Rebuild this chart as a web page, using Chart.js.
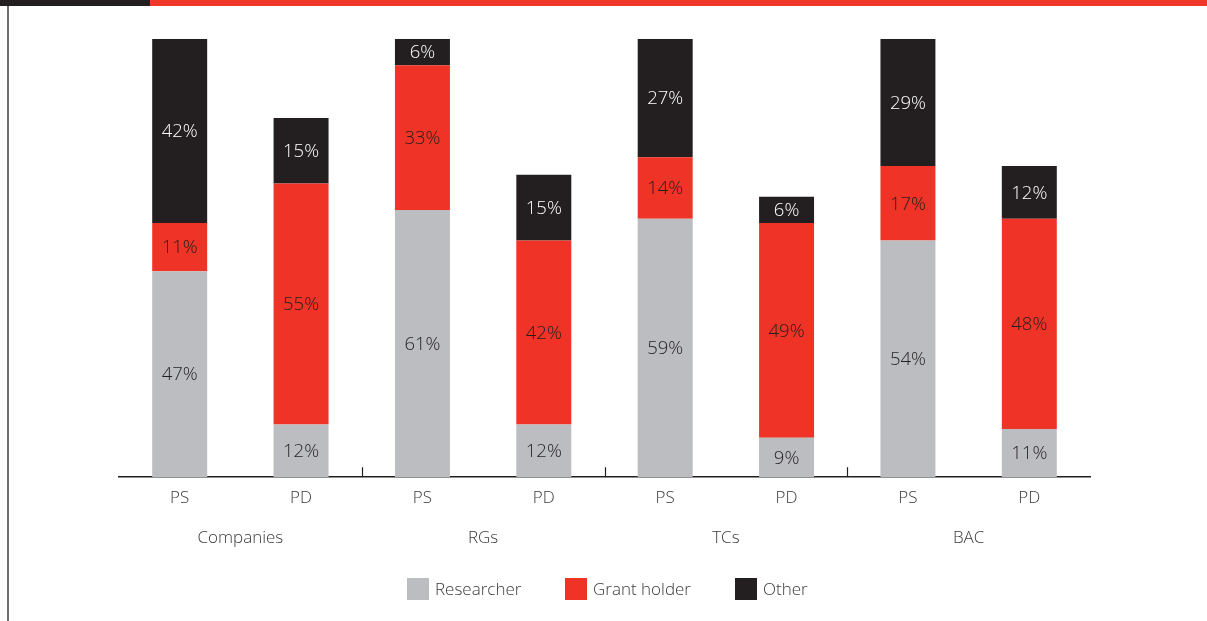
<!DOCTYPE html>
<html>
<head>
<meta charset="utf-8">
<script src="https://cdn.jsdelivr.net/npm/chart.js@4/dist/chart.umd.min.js"></script>
<style>
  html, body { margin: 0; padding: 0; background: #ffffff; }
  body { width: 1207px; height: 621px; position: relative; overflow: hidden; font-family: 'Open Sans', 'DejaVu Sans', sans-serif; }
  #bandBlack { position: absolute; left: 0; top: 0; width: 150px; height: 6px; background: #231f20; }
  #bandRed { position: absolute; left: 150px; top: 0; width: 1057px; height: 6px; background: #ef3829; }
  #leftLine { position: absolute; left: 7px; top: 6px; width: 2px; height: 615px; background: #6d6e71; }
  #wrap { position: absolute; left: 0; top: 0; width: 1207px; height: 621px; }
  #legend { position: absolute; left: 0; top: 578px; width: 1207px; height: 22px; }
  .item { position: absolute; top: 0; height: 22px; display: flex; align-items: center; }
  .box { width: 22px; height: 22px; margin-right: 6px; }
  .txt { font-size: 17px; font-weight: 300; color: #3a3a3a; line-height: 22px; white-space: nowrap; }
</style>
</head>
<body>
<div id="bandBlack"></div>
<div id="bandRed"></div>
<div id="leftLine"></div>
<div id="wrap"><canvas id="c" width="1207" height="621"></canvas></div>
<div id="legend"></div>
<script>
const barLabels = ['PS', 'PD', 'PS', 'PD', 'PS', 'PD', 'PS', 'PD'];
const groupLabels = ['Companies', 'RGs', 'TCs', 'BAC'];
const researcher = [47, 12, 61, 12, 59, 9, 54, 11];
const grantHolder = [11, 55, 33, 42, 14, 49, 17, 48];
const other = [42, 15, 6, 15, 27, 6, 29, 12];
const seriesNames = ['Researcher', 'Grant holder', 'Other'];
const seriesColors = ['#bcbdc0', '#ef3326', '#231f20'];
const labelColors = ['#231f20', '#231f20', '#ffffff'];
const legendX = [407, 565, 735];

const FONT = "'Open Sans', 'DejaVu Sans', sans-serif";

const segmentLabels = {
  id: 'segmentLabels',
  afterDatasetsDraw(chart) {
    const ctx = chart.ctx;
    ctx.save();
    ctx.font = '300 18.5px ' + FONT;
    ctx.textAlign = 'center';
    ctx.textBaseline = 'middle';
    chart.data.datasets.forEach((ds, di) => {
      const meta = chart.getDatasetMeta(di);
      meta.data.forEach((el, i) => {
        const v = ds.data[i];
        const cy = (el.y + el.base) / 2;
        ctx.fillStyle = labelColors[di];
        ctx.fillText(v + '%', el.x, cy + 1);
      });
    });
    ctx.restore();
  }
};

const groupTicks = {
  id: 'groupTicks',
  afterDatasetsDraw(chart) {
    const ctx = chart.ctx;
    const x = chart.scales.x;
    const bottom = chart.chartArea.bottom;
    ctx.save();
    ctx.strokeStyle = '#231f20';
    ctx.lineWidth = 1.2;
    for (let g = 1; g < groupLabels.length; g++) {
      const px = (x.getPixelForValue(2 * g - 1) + x.getPixelForValue(2 * g)) / 2;
      ctx.beginPath();
      ctx.moveTo(Math.round(px) + 0.5, bottom);
      ctx.lineTo(Math.round(px) + 0.5, bottom - 10);
      ctx.stroke();
    }
    ctx.restore();
  }
};

const chart = new Chart(document.getElementById('c'), {
  type: 'bar',
  data: {
    labels: barLabels,
    datasets: [
      { label: seriesNames[0], data: researcher, backgroundColor: seriesColors[0] },
      { label: seriesNames[1], data: grantHolder, backgroundColor: seriesColors[1] },
      { label: seriesNames[2], data: other, backgroundColor: seriesColors[2] }
    ]
  },
  options: {
    responsive: false,
    animation: false,
    devicePixelRatio: 1,
    layout: { padding: { left: 119, right: 117, top: 39, bottom: 65 } },
    datasets: { bar: { categoryPercentage: 1, barPercentage: 0.453 } },
    scales: {
      x: {
        stacked: true,
        grid: { display: false, drawTicks: false },
        border: { display: true, color: '#231f20', width: 1.5 },
        ticks: { color: '#3a3a3a', font: { family: FONT, size: 17, weight: '300' }, padding: 11 }
      },
      x2: {
        type: 'category',
        labels: groupLabels,
        offset: true,
        position: 'bottom',
        grid: { display: false, drawTicks: false },
        border: { display: false },
        ticks: { color: '#3a3a3a', font: { family: FONT, size: 17, weight: '300' }, padding: 8 }
      },
      y: {
        stacked: true,
        display: false,
        min: 0,
        max: 100
      }
    },
    plugins: {
      legend: { display: false },
      tooltip: { enabled: false }
    }
  },
  plugins: [segmentLabels, groupTicks]
});

const legendEl = document.getElementById('legend');
chart.data.datasets.forEach((ds, i) => {
  const item = document.createElement('div');
  item.className = 'item';
  item.style.left = legendX[i] + 'px';
  const box = document.createElement('div');
  box.className = 'box';
  box.style.background = ds.backgroundColor;
  const txt = document.createElement('span');
  txt.className = 'txt';
  txt.textContent = ds.label;
  item.appendChild(box);
  item.appendChild(txt);
  legendEl.appendChild(item);
});
</script>
</body>
</html>
